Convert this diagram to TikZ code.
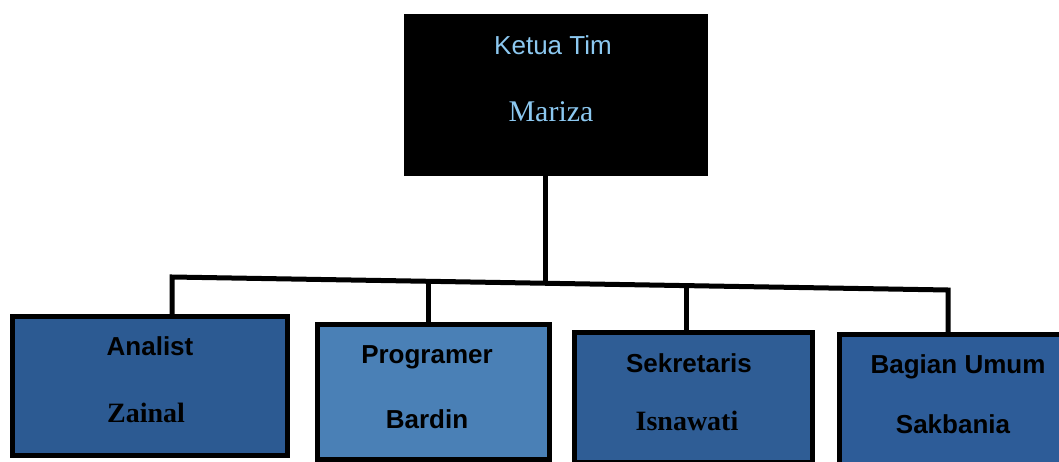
\documentclass[tikz,border=0pt]{standalone}
\usepackage{fontspec}
\setmainfont{Liberation Serif}
\setsansfont{Liberation Sans}
\definecolor{ketua}{HTML}{8CC8F0}
\definecolor{bluea}{HTML}{2C5A92}
\definecolor{blueb}{HTML}{4A80B6}
\definecolor{bluec}{HTML}{2F5D95}
\definecolor{blued}{HTML}{2D5C98}
\begin{document}
\begin{tikzpicture}[x=1pt,y=-1pt,
  box/.style={draw=black, line width=4.5pt, inner sep=0pt, anchor=north west},
  conn/.style={line width=5pt, draw=black},
  lab/.style={anchor=base, inner sep=0pt, text=black},
  sanslab/.style={lab, font=\fontsize{26}{30}\selectfont\sffamily\bfseries},
  seriflab/.style={lab, font=\fontsize{28}{30}\selectfont\rmfamily\bfseries}]
\useasboundingbox (0,0) rectangle (1059,462);
\fill[white] (0,0) rectangle (1059,462);
\clip (0,0) rectangle (1059,462);
% boxes
\node[box, fill=black, minimum width=299pt, minimum height=158pt] (top) at (404,14) {};
\node[box, fill=bluea, minimum width=275pt, minimum height=139pt] (b1) at (10,314) {};
\node[box, fill=blueb, minimum width=232pt, minimum height=135pt] (b2) at (315,322) {};
\node[box, fill=bluec, minimum width=238pt, minimum height=130pt] (b3) at (572,330) {};
\node[box, fill=blued, minimum width=240pt, minimum height=140pt] (b4) at (837,332) {};
% labels
\node[lab, text=ketua, font=\fontsize{26}{30}\selectfont\sffamily] (t0a) at (553,55) {Ketua Tim};
\node[lab, text=ketua, font=\fontsize{30}{30}\selectfont\rmfamily] (t0b) at (551,122) {Mariza};
\node[sanslab] (t1a) at (150,355) {Analist};
\node[seriflab] (t1b) at (146,422) {Zainal};
\node[sanslab] (t2a) at (427,363) {Programer};
\node[sanslab] (t2b) at (427,428) {Bardin};
\node[sanslab] (t3a) at (689,372) {Sekretaris};
\node[seriflab] (t3b) at (687,430) {Isnawati};
\node[sanslab] (t4a) at (958,373) {Bagian Umum};
\node[sanslab] (t4b) at (953,433) {Sakbania};
% connectors
\coordinate (jL) at (172,277);
\coordinate (jR) at (948,290);
\coordinate (j0) at (545,283);
\coordinate (j2) at (428,281);
\coordinate (j3) at (686,286);
\draw[conn] (top.south -| j0) -- (j0);
\draw[conn, line join=miter] (jL |- b1.north) -- (jL) -- (jR) -- (jR |- b4.north);
\draw[conn] (j2) -- (j2 |- b2.north);
\draw[conn] (j3) -- (j3 |- b3.north);
\end{tikzpicture}
\end{document}
